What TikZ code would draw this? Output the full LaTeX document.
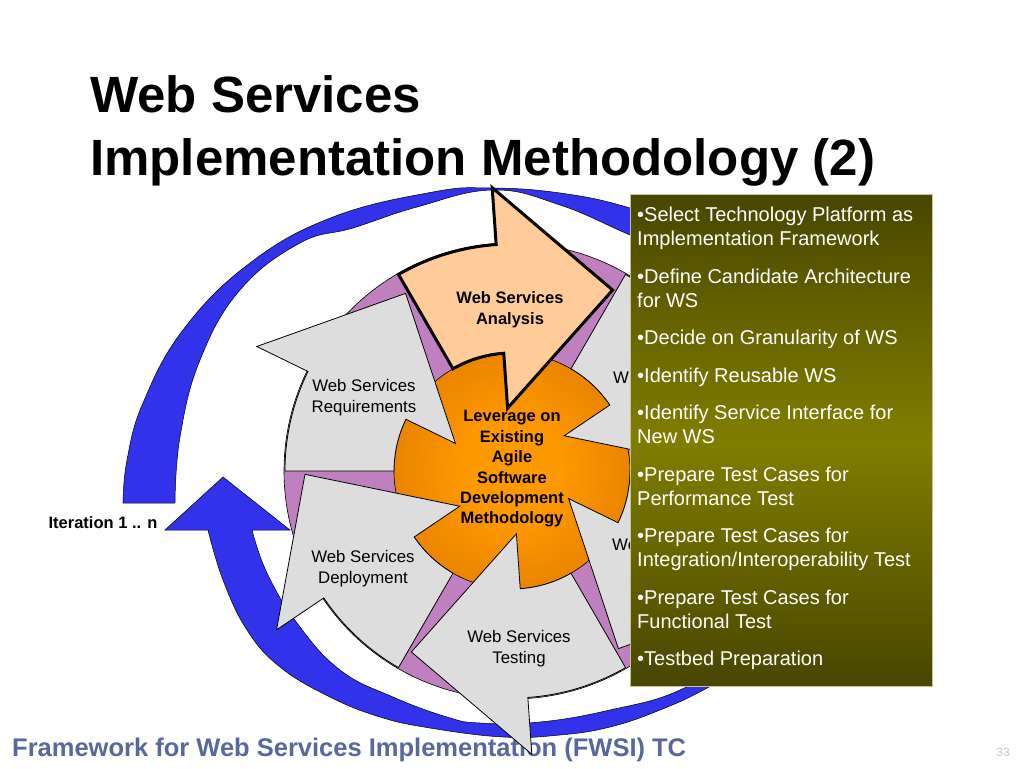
\documentclass[tikz,border=0pt]{standalone}
\usepackage{fontspec}
\setmainfont{Liberation Sans}
\usetikzlibrary{calc}
\definecolor{ringblue}{RGB}{50,50,235}
\definecolor{wheelpurple}{RGB}{192,128,192}
\definecolor{stepgray}{RGB}{221,221,221}
\definecolor{peach}{RGB}{255,204,153}
\definecolor{gearhi}{RGB}{255,153,0}
\definecolor{gearlo}{RGB}{200,100,0}
\definecolor{olivetop}{RGB}{72,70,0}
\definecolor{olivemid}{RGB}{128,126,0}
\definecolor{footblue}{RGB}{88,104,156}
\pgfdeclareradialshading{gearshade}{\pgfpoint{0bp}{0bp}}{color(0bp)=(gearhi); color(10bp)=(gearhi); color(50bp)=(gearlo); color(100bp)=(gearlo)}
\begin{document}
\begin{tikzpicture}[x=1pt,y=1pt]
\tikzstyle{every node}=[inner sep=0pt]
\tikzstyle{stepshape}=[fill=stepgray, draw=black, line width=0.8pt]
\tikzstyle{steplabel}=[align=center, font=\fontsize{16.8}{21}\selectfont]
\fill[white] (-512,-297) rectangle (512,471);
\useasboundingbox (-512,-297) rectangle (512,471);

\node (footer) [anchor=base west, text=footblue, font=\bfseries\fontsize{25.5}{30}\selectfont] at (-500,-285) {Framework for Web Services Implementation (FWSI) TC};
\node (pageno) [text=black!22, font=\fontsize{12}{14}\selectfont] at (491,-281) {33};

\filldraw[fill=ringblue, draw=black, line width=0.5pt] plot[smooth, tension=0.7] coordinates {(-389,-32) (-385,11) (-369,68) (-329,141) (-262,208) (-179,254) (-79,279) (-22,283) (48,278) (118,263) (208,231) (288,161) (338,71) (350,-9) (328,-99) (278,-169) (197,-216) (148,-239) (98,-256) (48,-264) (-9,-266) (-82,-257) (-132,-246) (-182,-226) (-232,-196) (-265,-159) (-289,-109) (-304,-59)} -- (-347,-59) -- (-289,-6) -- (-222,-59) -- plot[smooth, tension=0.7] coordinates {(-260,-59) (-245,-102) (-215,-152) (-172,-199) (-119,-226) (-65,-246) (-32,-252) (28,-251) (98,-239) (168,-219) (228,-179) (278,-109) (298,-9) (283,81) (238,161) (178,211) (118,236) (48,266) (-19,281) (-95,264) (-159,243) (-212,228) (-272,181) (-312,111) (-332,34) (-337,-32)} -- cycle;

\filldraw[fill=wheelpurple, draw=black, line width=0.6pt] (0,0) circle[radius=228pt];
\shade[shading=gearshade] (0,0) circle[radius=118pt];
\draw[line width=0.6pt] (0,0) circle[radius=118pt];

\scoped{
  \draw[stepshape] (180:118) -- (180:227) arc[start angle=180, end angle=154, radius=227pt] -- (154:284) -- ($(154:173.5)+(64:113)$) -- (154:63) -- (154:118) arc[start angle=154, end angle=180, radius=118pt] -- cycle;
  \draw[stepshape] (60:118) -- (60:227) arc[start angle=60, end angle=34, radius=227pt] -- (34:284) -- ($(34:173.5)+(-56:113)$) -- (34:63) -- (34:118) arc[start angle=34, end angle=60, radius=118pt] -- cycle;
  \draw[stepshape] (0:118) -- (0:227) arc[start angle=0, end angle=-26, radius=227pt] -- (-26:284) -- ($(-26:173.5)+(-116:113)$) -- (-26:63) -- (-26:118) arc[start angle=-26, end angle=0, radius=118pt] -- cycle;
  \draw[stepshape] (-60:118) -- (-60:227) arc[start angle=-60, end angle=-86, radius=227pt] -- (-86:284) -- ($(-86:173.5)+(-176:113)$) -- (-86:63) -- (-86:118) arc[start angle=-86, end angle=-60, radius=118pt] -- cycle;
  \draw[stepshape] (-120:118) -- (-120:227) arc[start angle=-120, end angle=-146, radius=227pt] -- (-146:284) -- ($(-146:173.5)+(124:113)$) -- (-146:63) -- (-146:118) arc[start angle=-146, end angle=-120, radius=118pt] -- cycle;
  \draw[stepshape, fill=peach, line width=3pt] (120:118) -- (120:227) arc[start angle=120, end angle=94, radius=227pt] -- (94:284) -- ($(94:173.5)+(4:113)$) -- (94:63) -- (94:118) arc[start angle=94, end angle=120, radius=118pt] -- cycle;
};

\node (req) [steplabel] at (-148,73.5) {Web Services\\Requirements};
\node (ana) [steplabel, font=\bfseries\fontsize{16.5}{21}\selectfont] at (-2,161.5) {Web Services\\Analysis};
\node (wsa) [steplabel, anchor=west] at (101,93) {W};
\node (wsb) [steplabel, anchor=west] at (100,-74) {We};
\node (test) [steplabel] at (7,-177.5) {Web Services\\Testing};
\node (dep) [steplabel] at (-149,-97.5) {Web Services\\Deployment};
\node (core) [align=center, font=\bfseries\fontsize{16.5}{20.4}\selectfont] at (0,2) {Leverage on\\Existing\\Agile\\Software\\Development\\Methodology};

\shade[top color=olivetop, bottom color=olivetop, middle color=olivemid] (118,276) rectangle (420,-215);
\draw[draw=olivemid!45!white, line width=1pt] (118,276) rectangle (420,-215);
\node (tasks) [anchor=north west, align=left, text=white, font=\fontsize{20}{24}\selectfont] at (125,264) {%
•Select Technology Platform as\\Implementation Framework\\[13.5pt]
•Define Candidate Architecture\\for WS\\[13.5pt]
•Decide on Granularity of WS\\[13.5pt]
•Identify Reusable WS\\[13.5pt]
•Identify Service Interface for\\New WS\\[13.5pt]
•Prepare Test Cases for\\Performance Test\\[13.5pt]
•Prepare Test Cases for\\Integration/Interoperability Test\\[13.5pt]
•Prepare Test Cases for\\Functional Test\\[13.5pt]
•Testbed Preparation};

\node (iter) [font=\bfseries\fontsize{16.5}{20}\selectfont] at (-409,-52) {Iteration 1 .. n};
\node (title1) [anchor=base west, font=\bfseries\fontsize{51}{63}\selectfont] at (-422,358) {Web Services};
\node (title2) [anchor=base west, font=\bfseries\fontsize{51}{63}\selectfont] at (-422,295) {Implementation Methodology (2)};
\end{tikzpicture}
\end{document}
